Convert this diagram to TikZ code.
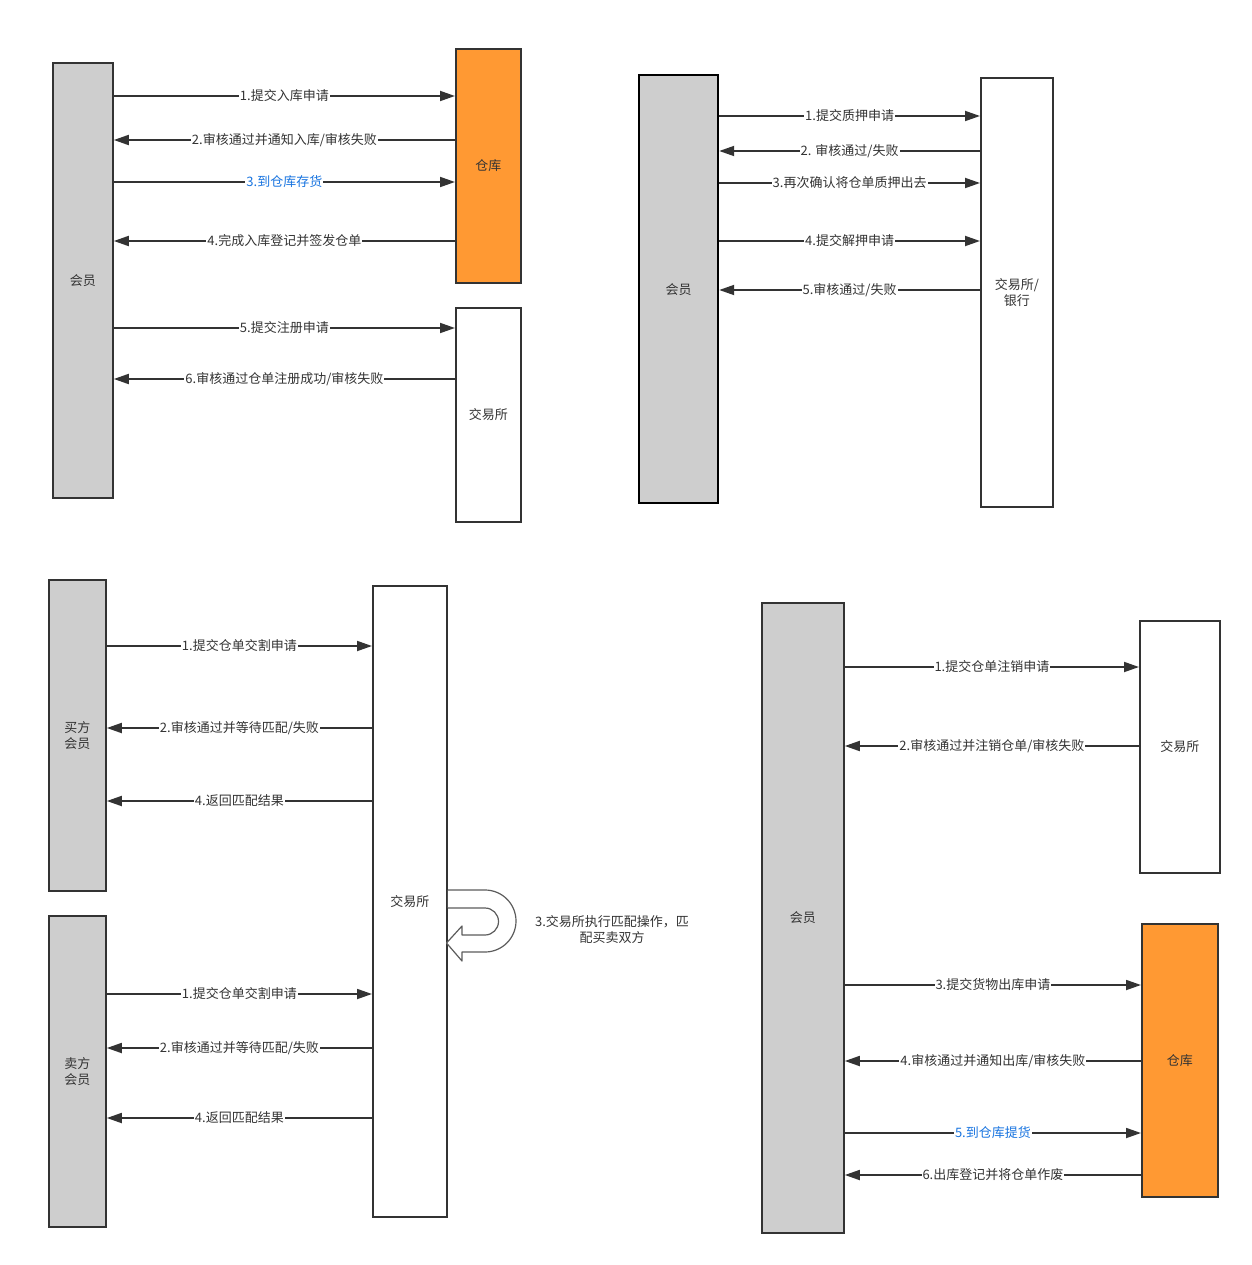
\documentclass[tikz,border=0pt]{standalone}
\usepackage{fontspec}
\setmainfont{Noto Sans CJK SC}
\usetikzlibrary{arrows.meta}
\definecolor{ln}{HTML}{333333}
\definecolor{gbox}{HTML}{CECECE}
\definecolor{obox}{HTML}{FF9933}
\definecolor{blu}{HTML}{1874E0}
\tikzset{
  box/.style={draw=ln, line width=1.8pt, anchor=north west, inner sep=0pt, align=center, text=ln, font=\fontsize{13}{16}\selectfont},
  gray box/.style={box, fill=gbox},
  orange box/.style={box, fill=obox},
  white box/.style={box, fill=white},
  arr/.style={draw=ln, line width=1.8pt, -{Triangle[length=15pt,width=10pt]}},
  lbl/.style={fill=white, inner sep=1pt, text=ln, font=\fontsize{13}{14}\selectfont},
  bl/.style={lbl, text=blu},
  uturn/.style={draw=ln!80, line width=1.2pt, fill=white, line join=round},
}
\begin{document}
\begin{tikzpicture}[x=1pt,y=-1pt]
\useasboundingbox (0,0) rectangle (1251,1265);
% ---------- panel 1 ----------
\node[gray box, minimum width=60pt, minimum height=435pt] (a1) at (52,62) {会员};
\node[orange box, minimum width=65pt, minimum height=234pt] (a2) at (455,48) {仓库};
\node[white box, minimum width=65pt, minimum height=214pt] (a3) at (455,307) {交易所};
\draw[arr] (a1.east |- {0,96}) -- node[lbl] {1.提交入库申请} (a2.west |- {0,96});
\draw[arr] (a2.west |- {0,140}) -- node[lbl] {2.审核通过并通知入库/审核失败} (a1.east |- {0,140});
\draw[arr] (a1.east |- {0,182}) -- node[bl] {3.到仓库存货} (a2.west |- {0,182});
\draw[arr] (a2.west |- {0,241}) -- node[lbl] {4.完成入库登记并签发仓单} (a1.east |- {0,241});
\draw[arr] (a1.east |- {0,328}) -- node[lbl] {5.提交注册申请} (a3.west |- {0,328});
\draw[arr] (a3.west |- {0,379}) -- node[lbl] {6.审核通过仓单注册成功/审核失败} (a1.east |- {0,379});
% ---------- panel 2 ----------
\node[gray box, draw=black, line width=2.2pt, minimum width=79pt, minimum height=428pt] (b1) at (638,74) {会员};
\node[white box, minimum width=72pt, minimum height=429pt] (b2) at (980,77) {交易所/\\银行};
\draw[arr] (b1.east |- {0,116}) -- node[lbl] {1.提交质押申请} (b2.west |- {0,116});
\draw[arr] (b2.west |- {0,151}) -- node[lbl] {2. 审核通过/失败} (b1.east |- {0,151});
\draw[arr] (b1.east |- {0,183}) -- node[lbl] {3.再次确认将仓单质押出去} (b2.west |- {0,183});
\draw[arr] (b1.east |- {0,241}) -- node[lbl] {4.提交解押申请} (b2.west |- {0,241});
\draw[arr] (b2.west |- {0,290}) -- node[lbl] {5.审核通过/失败} (b1.east |- {0,290});
% ---------- panel 3 ----------
\node[gray box, minimum width=57pt, minimum height=311pt] (c1) at (48,579) {买方\\会员};
\node[gray box, minimum width=57pt, minimum height=311pt] (c2) at (48,915) {卖方\\会员};
\node[white box, minimum width=74pt, minimum height=631pt] (c3) at (372,585) {交易所};
\draw[arr] (c1.east |- {0,646}) -- node[lbl] {1.提交仓单交割申请} (c3.west |- {0,646});
\draw[arr] (c3.west |- {0,728}) -- node[lbl] {2.审核通过并等待匹配/失败} (c1.east |- {0,728});
\draw[arr] (c3.west |- {0,801}) -- node[lbl] {4.返回匹配结果} (c1.east |- {0,801});
\draw[arr] (c2.east |- {0,994}) -- node[lbl] {1.提交仓单交割申请} (c3.west |- {0,994});
\draw[arr] (c3.west |- {0,1048}) -- node[lbl] {2.审核通过并等待匹配/失败} (c2.east |- {0,1048});
\draw[arr] (c3.west |- {0,1118}) -- node[lbl] {4.返回匹配结果} (c2.east |- {0,1118});
\coordinate (ut) at (c3.east |- {0,890});
\draw[uturn] (ut) -- (485,890) arc[start angle=90, end angle=-90, radius=31pt]
  -- (462,952) -- (462,961) -- (446.5,943) -- (462,926) -- (462,935) -- (485,935)
  arc[start angle=-90, end angle=90, radius=13.5pt] -- (c3.east |- {0,908});
\node[align=center, text=ln, font=\fontsize{13}{16}\selectfont] (c4) at (612,930) {3.交易所执行匹配操作，匹\\配买卖双方};
% ---------- panel 4 ----------
\node[gray box, minimum width=82pt, minimum height=630pt] (d1) at (761,602) {会员};
\node[white box, minimum width=80pt, minimum height=252pt] (d2) at (1139,620) {交易所};
\node[orange box, minimum width=76pt, minimum height=273pt] (d3) at (1141,923) {仓库};
\draw[arr] (d1.east |- {0,667}) -- node[lbl] {1.提交仓单注销申请} (d2.west |- {0,667});
\draw[arr] (d2.west |- {0,746}) -- node[lbl] {2.审核通过并注销仓单/审核失败} (d1.east |- {0,746});
\draw[arr] (d1.east |- {0,985}) -- node[lbl] {3.提交货物出库申请} (d3.west |- {0,985});
\draw[arr] (d3.west |- {0,1061}) -- node[lbl] {4.审核通过并通知出库/审核失败} (d1.east |- {0,1061});
\draw[arr] (d1.east |- {0,1133}) -- node[bl] {5.到仓库提货} (d3.west |- {0,1133});
\draw[arr] (d3.west |- {0,1175}) -- node[lbl] {6.出库登记并将仓单作废} (d1.east |- {0,1175});
\end{tikzpicture}
\end{document}
